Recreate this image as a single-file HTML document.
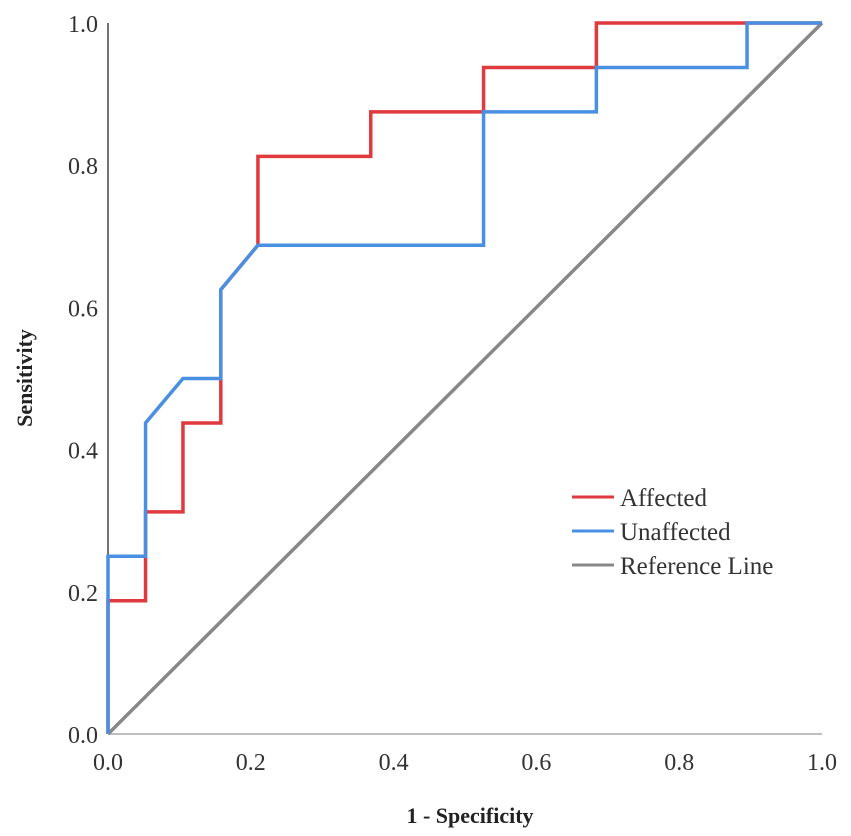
<!DOCTYPE html>
<html><head><meta charset="utf-8"><style>
body{margin:0;background:#fff}
svg{display:block;font-family:"Liberation Serif",serif}
</style></head><body>
<svg width="851" height="836" id="c">
<line x1="108" y1="23" x2="108" y2="734" stroke="#444" stroke-width="1.5"/>
<line x1="108" y1="734" x2="822" y2="734" stroke="#aaa" stroke-width="1.5"/>
<g id="ticks"></g>
<text x="470" y="823" text-anchor="middle" font-size="22" font-weight="bold" fill="#222">1 - Specificity</text>
<text transform="translate(32,378) rotate(-90)" text-anchor="middle" font-size="22" font-weight="bold" fill="#222">Sensitivity</text>
<g id="series"></g>
<g>
<g><line x1="572" y1="497" x2="614" y2="497" stroke="#e0393e" stroke-width="3"/><text x="620" y="506" font-size="25" fill="#333">Affected</text></g>
<g><line x1="572" y1="531" x2="614" y2="531" stroke="#4a90e2" stroke-width="3"/><text x="620" y="540" font-size="25" fill="#333">Unaffected</text></g>
<g><line x1="572" y1="565" x2="614" y2="565" stroke="#888" stroke-width="3"/><text x="620" y="574" font-size="25" fill="#333">Reference Line</text></g>
</g>
</svg>
<script>
const xTicks=[0,0.2,0.4,0.6,0.8,1.0];
const yTicks=[0,0.2,0.4,0.6,0.8,1.0];
const affectedX=[0,0,0.0526,0.0526,0.105,0.105,0.158,0.158,0.21,0.21,0.368,0.368,0.526,0.526,0.684,0.684,1];
const affectedY=[0,0.1875,0.1875,0.3125,0.3125,0.4375,0.4375,0.625,0.6875,0.8125,0.8125,0.875,0.875,0.9375,0.9375,1,1];
const unaffectedX=[0,0,0.0526,0.0526,0.105,0.158,0.158,0.21,0.526,0.526,0.684,0.684,0.895,0.895,1];
const unaffectedY=[0,0.25,0.25,0.4375,0.5,0.5,0.625,0.6875,0.6875,0.875,0.875,0.9375,0.9375,1,1];
const refX=[0,1];
const refY=[0,1];
const sx=v=>108+v*714, sy=v=>734-v*711;
const NS="http://www.w3.org/2000/svg";
const tg=document.getElementById('ticks');
xTicks.forEach(t=>{const e=document.createElementNS(NS,'text');


e.setAttribute('x',sx(t));e.setAttribute('y',770);e.setAttribute('text-anchor','middle');e.setAttribute('font-size','24');e.setAttribute('fill','#333');e.textContent=t.toFixed(1);tg.appendChild(e);});
yTicks.forEach(t=>{const e=document.createElementNS(NS,'text');


e.setAttribute('x',98);e.setAttribute('y',sy(t)+9);e.setAttribute('text-anchor','end');e.setAttribute('font-size','24');e.setAttribute('fill','#333');e.textContent=t.toFixed(1);tg.appendChild(e);});
const sg=document.getElementById('series');
function line(xs,ys,col,name){const p=document.createElementNS(NS,'polyline');


p.setAttribute('points',xs.map((x,i)=>sx(x)+','+sy(ys[i])).join(' '));p.setAttribute('fill','none');p.setAttribute('stroke',col);p.setAttribute('stroke-width','3.5');sg.appendChild(p);}
line(refX,refY,'#888','reference-line');
line(affectedX,affectedY,'#e0393e','affected-line');
line(unaffectedX,unaffectedY,'#4a90e2','unaffected-line');
</script>
</body></html>
